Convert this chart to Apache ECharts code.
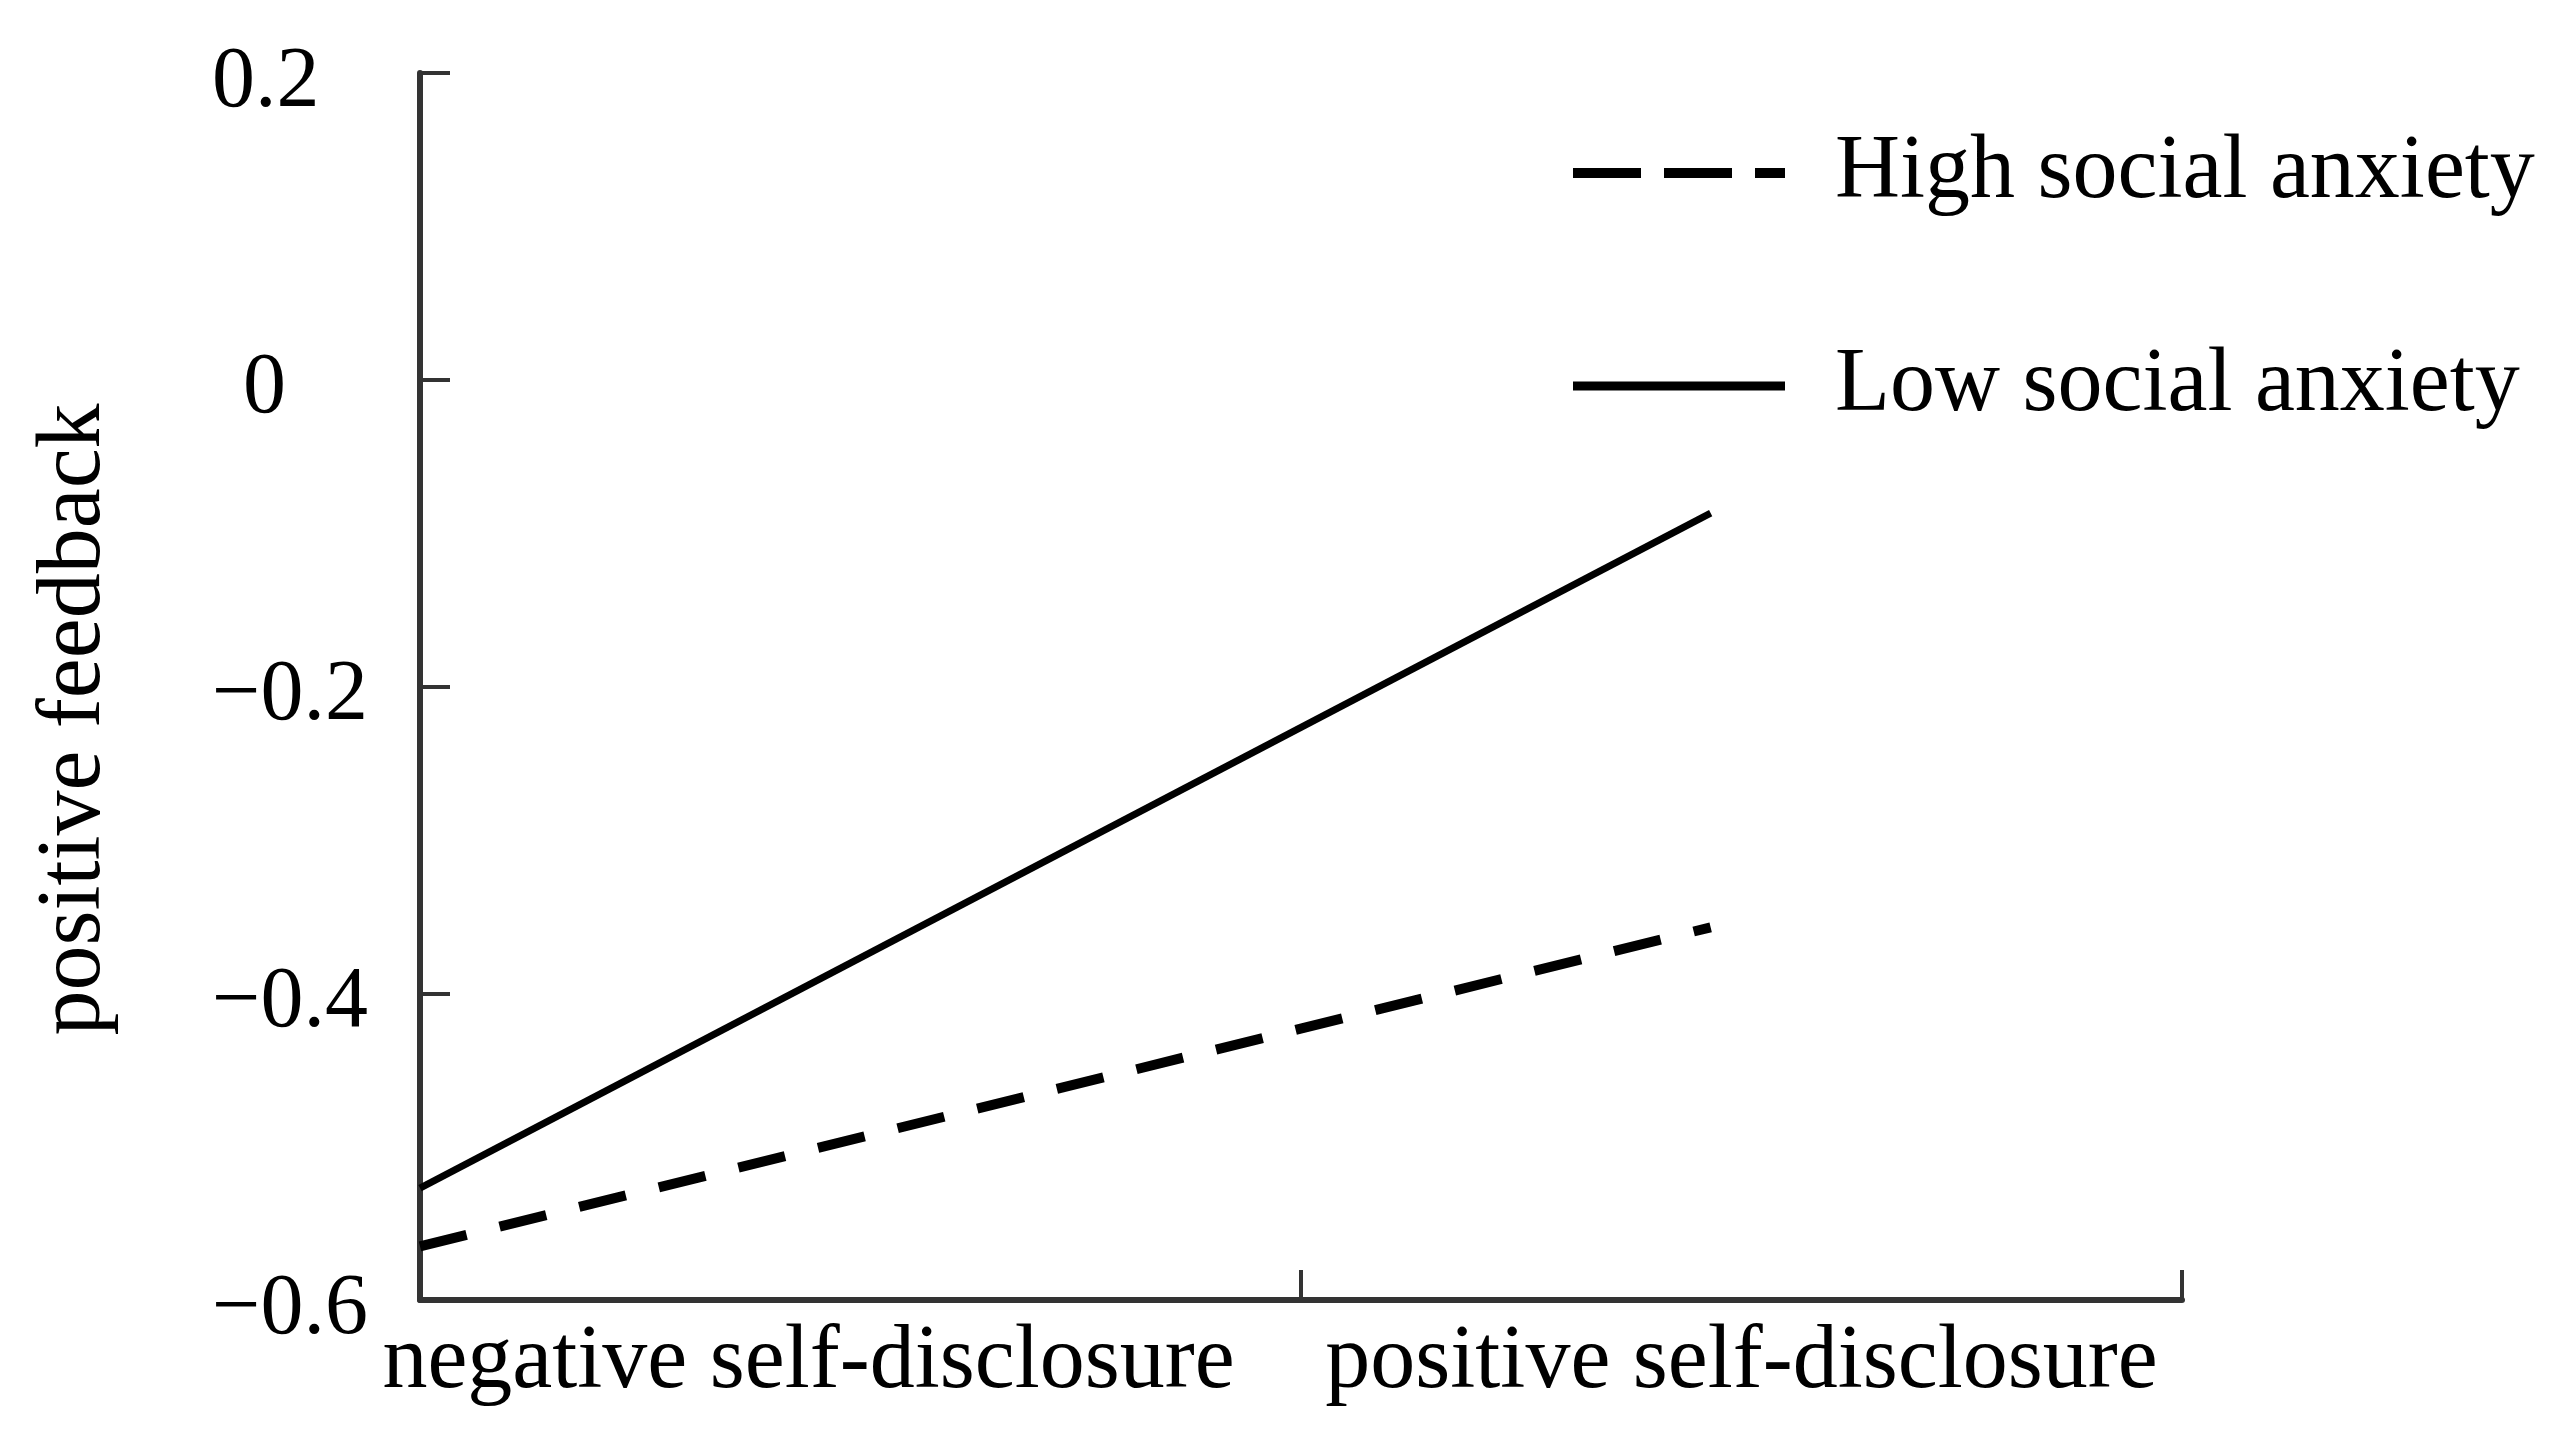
<!DOCTYPE html>
<html>
<head>
<meta charset="utf-8">
<script src="https://cdn.jsdelivr.net/npm/echarts@6/dist/echarts.min.js"></script>
<style>
html,body{margin:0;padding:0;background:#fff;}
#chart{width:2569px;height:1440px;}
</style>
</head>
<body>
<div id="chart"></div>
<script>
// ---- data ----
var categories = ['negative self-disclosure', 'positive self-disclosure'];
var seriesNames = ['High social anxiety', 'Low social anxiety'];
var xPositions = [0, 1.465];          // position along the x band scale (0..2)
var highAnxiety = [-0.565, -0.357];
var lowAnxiety = [-0.527, -0.087];
var yTicks = [-0.6, -0.4, -0.2, 0, 0.2];

var FONT = '"Liberation Serif", "DejaVu Serif", serif';
var chart = echarts.init(document.getElementById('chart'));

function pairs(xs, ys) {
  return xs.map(function (x, i) { return [x, ys[i]]; });
}

var option = {
  backgroundColor: '#ffffff',
  animation: false,
  color: ['#000000', '#000000'],
  grid: { left: 420, right: 387, top: 73, bottom: 140, containLabel: false },
  legend: {
    orient: 'vertical',
    left: 1563,
    top: 118,
    itemWidth: 212,
    itemHeight: 40,
    itemGap: 113,
    itemStyle: { opacity: 0 },
    textStyle: { fontFamily: FONT, fontSize: 90, color: '#000', lineHeight: 100, padding: [0, 0, 0, 45] },
    data: [
      { name: seriesNames[0], lineStyle: { type: [68, 23], width: 10, color: '#000' } },
      { name: seriesNames[1], lineStyle: { type: 'solid', width: 9, color: '#000' } }
    ]
  },
  xAxis: [
    {
      type: 'category',
      data: categories,
      boundaryGap: true,
      axisLine: { show: true, onZero: false, lineStyle: { color: '#333', width: 6 } },
      axisTick: { show: true, inside: true, length: 30, interval: 0, alignWithLabel: false, lineStyle: { color: '#333', width: 4 } },
      axisLabel: {
        interval: 0,
        hideOverlap: false,
        margin: 18,
        fontFamily: FONT,
        fontSize: 90,
        color: '#000',
        formatter: function (v, i) { return i === 0 ? '{a|' + v + '}' : v; },
        rich: { a: { fontFamily: FONT, fontSize: 90, color: '#000', padding: [0, 104, 0, 0] } }
      },
      splitLine: { show: false }
    },
    {
      type: 'value',
      min: 0,
      max: 2,
      show: false
    }
  ],
  yAxis: {
    type: 'value',
    min: -0.6,
    max: 0.2,
    interval: 0.2,
    name: 'positive feedback',
    nameLocation: 'middle',
    nameGap: 300,
    nameRotate: 90,
    nameTextStyle: { fontFamily: FONT, fontSize: 90, color: '#000', padding: [0, 66, 0, 0] },
    axisLine: { show: true, lineStyle: { color: '#333', width: 6 } },
    axisTick: { show: true, inside: true, length: 30, lineStyle: { color: '#333', width: 4 } },
    axisLabel: {
      align: 'left',
      margin: 208,
      padding: [20, 0, 0, 0],
      fontFamily: FONT,
      fontSize: 86,
      color: '#000',
      formatter: function (v) {
        if (Math.abs(v) < 1e-9) return '{z|0}';
        return (v < 0 ? '\u2212' : '') + Math.abs(v).toFixed(1);
      },
      rich: { z: { fontFamily: FONT, fontSize: 86, color: '#000', padding: [0, 0, 0, 31] } }
    },
    splitLine: { show: false }
  },
  series: [
    {
      name: seriesNames[0],
      type: 'line',
      xAxisIndex: 1,
      data: pairs(xPositions, highAnxiety),
      symbol: 'none',
      showSymbol: false,
      itemStyle: { color: '#000' },
      lineStyle: { color: '#000', width: 10, type: [48, 34] }
    },
    {
      name: seriesNames[1],
      type: 'line',
      xAxisIndex: 1,
      data: pairs(xPositions, lowAnxiety),
      symbol: 'none',
      showSymbol: false,
      itemStyle: { color: '#000' },
      lineStyle: { color: '#000', width: 7, type: 'solid' }
    }
  ]
};
chart.setOption(option);
</script>
</body>
</html>
